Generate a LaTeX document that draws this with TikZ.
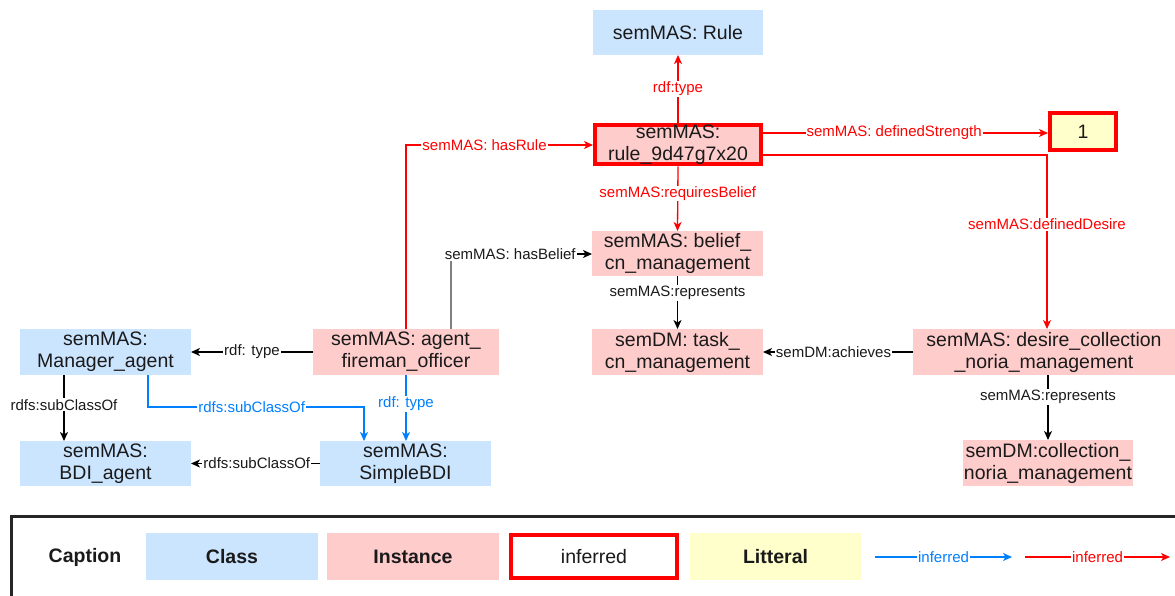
\documentclass[tikz,border=0pt]{standalone}
\usepackage{fontspec}
\setmainfont{Liberation Sans}
\usetikzlibrary{arrows.meta}
\definecolor{clsblue}{HTML}{CCE5FF}
\definecolor{instpink}{HTML}{FFCCCC}
\definecolor{lityellow}{HTML}{FFFFCC}
\definecolor{infred}{HTML}{FF0000}
\definecolor{infblue}{HTML}{007FFF}
\definecolor{txtcol}{HTML}{1A1A1A}
\definecolor{hbgray}{HTML}{808080}
\newcommand\mynodefont{\fontsize{19.5}{22}\selectfont}
\newcommand\mylblfont{\fontsize{15}{17}\selectfont}
\newcommand\mycapfont{\fontsize{19.5}{22}\selectfont}
\begin{document}
\begin{tikzpicture}[x=1pt,y=-1pt,
  box/.style={inner sep=0pt, outer sep=0pt, align=center, font=\mynodefont, text=txtcol},
  cls/.style={box, fill=clsblue},
  inst/.style={box, fill=instpink},
  lit/.style={box, fill=lityellow},
  infbox/.style={draw=infred, line width=4pt, outer sep=2pt},
  lbl/.style={fill=white, inner sep=1pt, font=\mylblfont},
  edge/.style={line width=1.3pt, -{Stealth[length=9pt,width=8pt,inset=2.5pt]}},
  redge/.style={edge, draw=infred, text=infred},
  bedge/.style={edge, draw=infblue, text=infblue},
  kedge/.style={edge, draw=black, text=txtcol}]
\clip (0,0) rectangle (1175,596);
\fill[white] (0,0) rectangle (1175,596);

% nodes
\node[cls, minimum width=170pt, minimum height=45pt] (rulecls) at (678,32.5) {semMAS: Rule};
\node[inst, infbox, minimum width=166pt, minimum height=39pt] (rule) at (678,144.5) {semMAS:\\rule\_9d47g7x20};
\node[lit, infbox, minimum width=66pt, minimum height=37pt] (one) at (1083,131.5) {1};
\node[inst, minimum width=171pt, minimum height=45pt] (belief) at (677.5,253.5) {semMAS: belief\_\\cn\_management};
\node[inst, minimum width=171pt, minimum height=46pt] (task) at (677.5,352) {semDM: task\_\\cn\_management};
\node[inst, minimum width=262pt, minimum height=46pt] (desire) at (1044,352) {semMAS: desire\_collection\\\_noria\_management};
\node[inst, minimum width=170pt, minimum height=46pt] (coll) at (1048,463) {semDM:collection\_\\noria\_management};
\node[cls, minimum width=171pt, minimum height=46pt] (mgr) at (105.5,352) {semMAS:\\Manager\_agent};
\node[inst, minimum width=186pt, minimum height=46pt] (af) at (406,352) {semMAS: agent\_\\fireman\_officer};
\node[cls, minimum width=171pt, minimum height=45pt] (bdi) at (105.5,463.5) {semMAS:\\BDI\_agent};
\node[cls, minimum width=171pt, minimum height=45pt] (sbdi) at (405.5,463.5) {semMAS:\\SimpleBDI};

% red inferred edges
\draw[redge] (rule) -- node[lbl]{rdf:type} (rulecls);
\coordinate (hr) at (406,145);
\draw[redge] (af.north) -- (hr) -- node[lbl,pos=0.42]{semMAS: hasRule} (hr -| rule.west);
\coordinate (ds) at (900,133);
\draw[redge] (ds -| rule.east) -- node[lbl,pos=0.46]{semMAS: definedStrength} (ds -| one.west);
\coordinate (dd) at (1047,155);
\draw[redge] (dd -| rule.east) -- (dd) -- node[lbl,pos=0.4]{semMAS:definedDesire} (dd |- desire.north);
\draw[redge] (rule.south) -- node[lbl,pos=0.42]{semMAS:requiresBelief} (belief.north);

% black edges
\coordinate (hb) at (451,254);
\draw[hbgray, line width=1.3pt] (hb |- af.north) -- (hb);
\draw[kedge] (hb) -- node[lbl,pos=0.42]{semMAS: hasBelief} (hb -| belief.west);
\draw[kedge] (belief.south) -- node[lbl,pos=0.32]{semMAS:represents} (task.north);
\draw[kedge] (desire.west) -- node[lbl,pos=0.53]{semDM:achieves} (task.east);
\draw[kedge] (coll.north |- desire.south) -- node[lbl,pos=0.34]{semMAS:represents} (coll.north);
\draw[kedge] (af.west) -- node[lbl]{rdf: type} (mgr.east);
\coordinate (sc) at (64,405);
\draw[kedge] (sc |- mgr.south) -- node[lbl,pos=0.45]{rdfs:subClassOf} (sc |- bdi.north);
\draw[kedge] (sbdi.west) -- node[lbl,pos=0.49]{rdfs:subClassOf} (bdi.east);

% blue inferred edges
\coordinate (b1) at (148,407);
\coordinate (b2) at (364,407);
\draw[bedge] (b1 |- mgr.south) -- (b1) -- node[lbl,pos=0.48]{rdfs:subClassOf} (b2) -- (b2 |- sbdi.north);
\draw[bedge] (af.south) -- node[lbl,pos=0.44]{rdf: type} (af.south |- sbdi.north);

% caption
\node[draw=black!85, line width=2.5pt, minimum width=1200pt, minimum height=110pt, anchor=north west] (capframe) at (10,515) {};
\node[font=\bfseries\mycapfont, text=txtcol] (cap) at (85,557) {Caption};
\node[cls, minimum width=172pt, minimum height=47pt, font=\bfseries\mycapfont] (lcls) at (232,556.5) {Class};
\node[inst, minimum width=172pt, minimum height=47pt, font=\bfseries\mycapfont] (linst) at (413,556.5) {Instance};
\node[box, infbox, fill=white, minimum width=166pt, minimum height=43pt, font=\mycapfont] (linf) at (594,556.5) {inferred};
\node[lit, minimum width=171pt, minimum height=47pt, font=\bfseries\mycapfont] (llit) at (775.5,556.5) {Litteral};
\coordinate (la1) at (875,557);
\coordinate (la2) at (1012,557);
\draw[bedge] (la1) -- node[lbl]{inferred} (la2);
\coordinate (lr1) at (1025,557);
\coordinate (lr2) at (1170,557);
\draw[redge] (lr1) -- node[lbl]{inferred} (lr2);
\end{tikzpicture}
\end{document}
